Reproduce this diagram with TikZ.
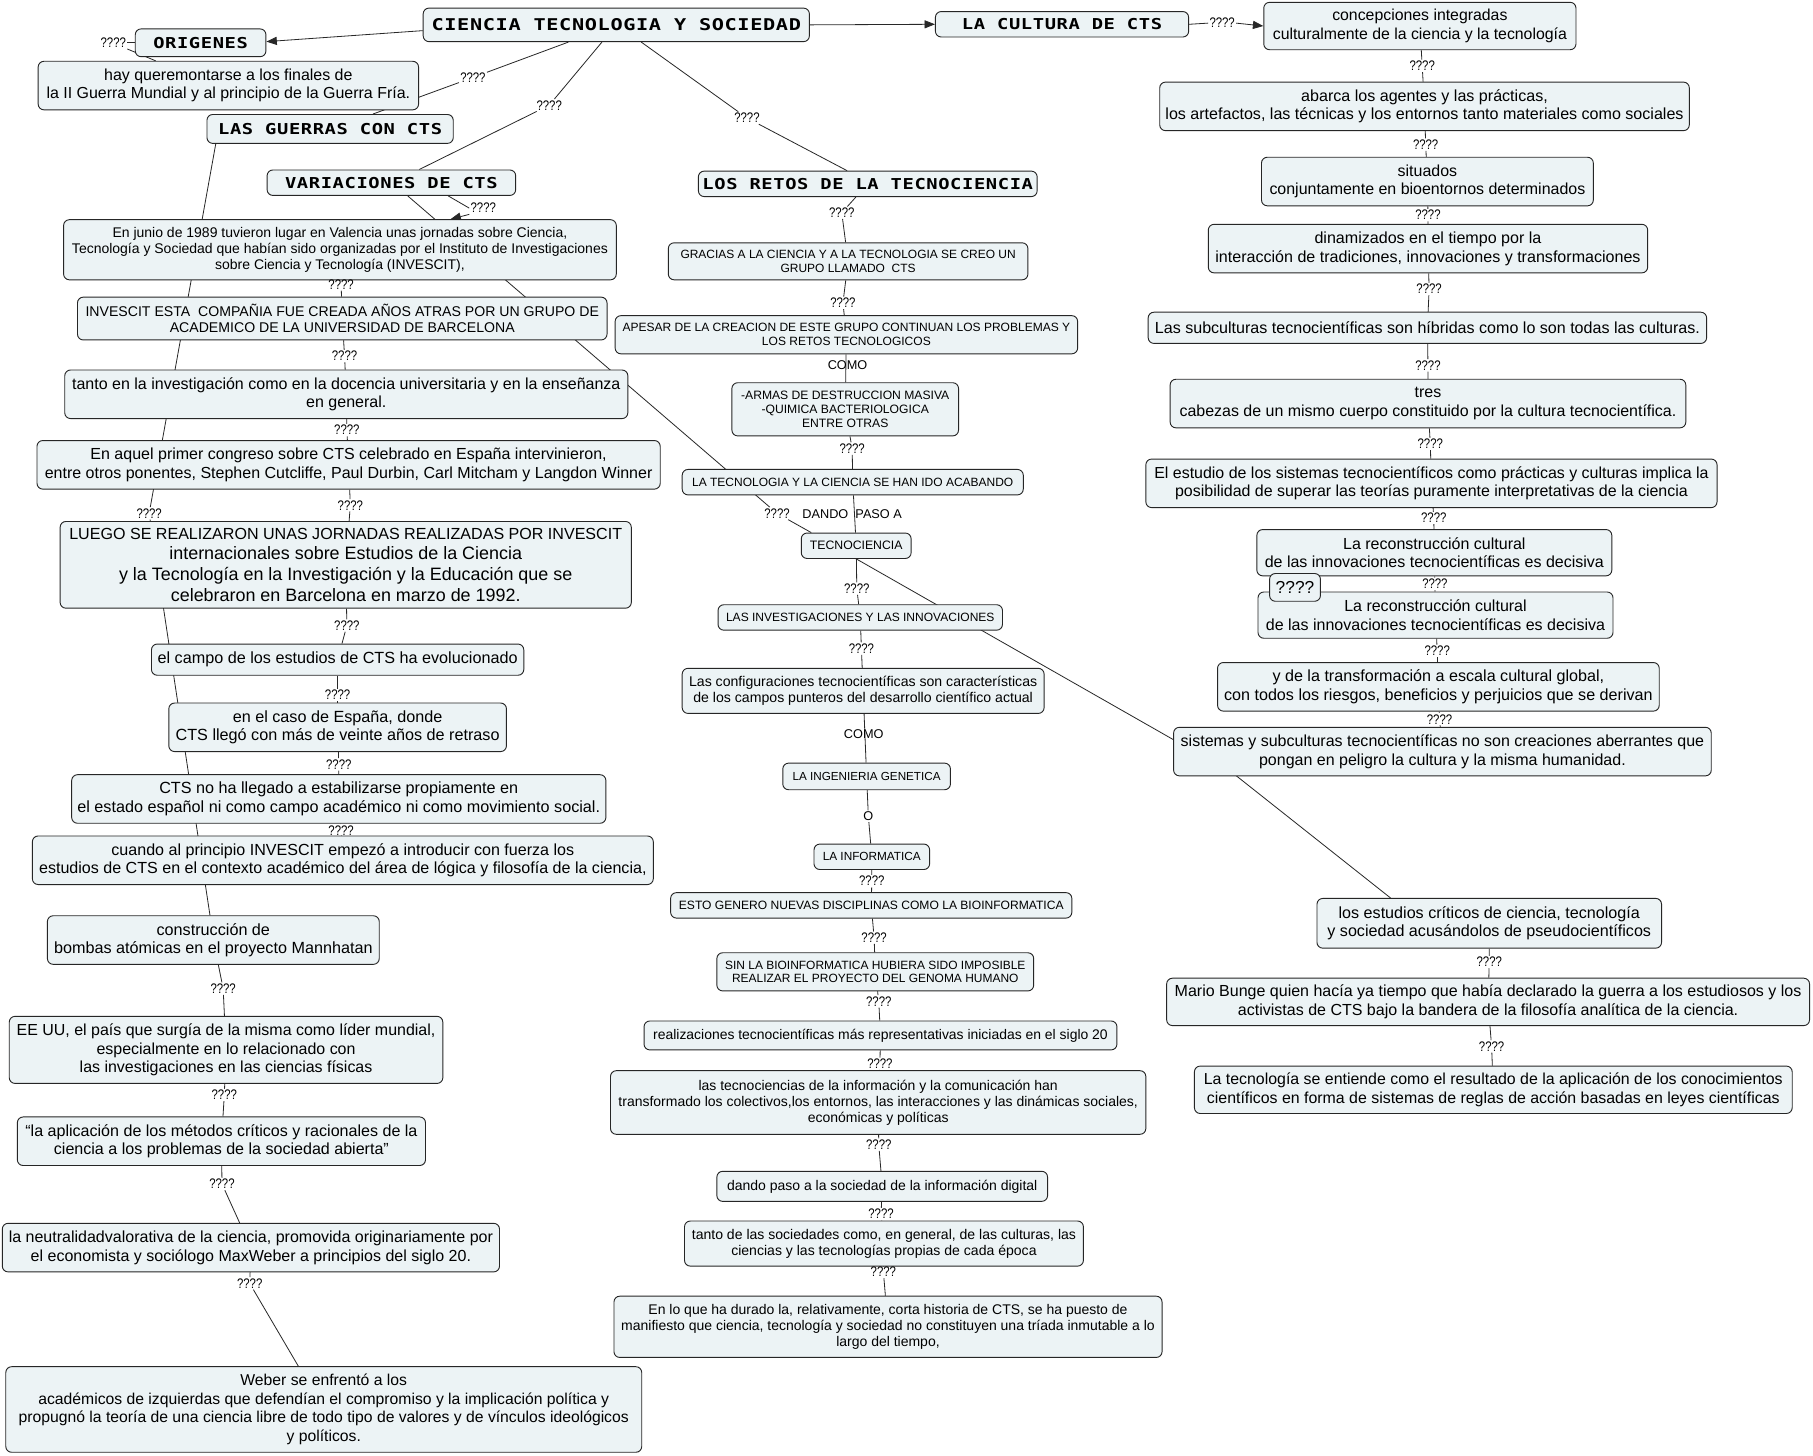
\documentclass[tikz,border=0pt]{standalone}
\usepackage{fontspec}
\setmainfont{Liberation Sans}
\newfontfamily\narrowfont[FakeStretch=0.82]{Liberation Sans}
\newfontfamily\techfont[FakeStretch=1.25,LetterSpace=4]{DejaVu Sans Mono}
\usetikzlibrary{arrows.meta,calc}
\pgfdeclarelayer{bg}
\pgfsetlayers{bg,main}
\definecolor{nodefill}{RGB}{236,243,245}
\definecolor{edgecol}{RGB}{40,40,40}
\newcommand\fz[2]{\fontsize{#1}{#2}\selectfont}
\newcommand\nd[7]{\node[box,minimum width={(#4)-(#2)},minimum height={(#5)-(#3)},font={#6}] (#1) at ({((#2)+(#4))/2},{((#3)+(#5))/2}) {#7};}
\begin{document}
\begin{tikzpicture}[x=1pt,y=-1pt,
  box/.style={draw=black!85,fill=nodefill,rounded corners=5pt,line width=0.8pt,inner sep=0pt,align=center},
  lab/.style={inner sep=1pt,font={\narrowfont\fz{12}{14}}},
  lab2/.style={inner sep=1pt,font={\fz{11}{13}}},
  conn/.style={draw=edgecol,line width=0.7pt},
  arr/.style={conn,-{Triangle[length=9pt,width=7pt]}}]
\useasboundingbox (0,0) rectangle (1568,1259);
% ---- title-font concepts
\nd{T}{366}{7}{700}{36}{\techfont\bfseries\fz{14}{16}}{CIENCIA TECNOLOGIA Y SOCIEDAD}
\nd{ORIG}{117}{25}{230}{49}{\techfont\bfseries\fz{13}{15}}{ORIGENES}
\nd{CULT}{809}{10}{1028}{32}{\techfont\bfseries\fz{13}{15}}{LA CULTURA DE CTS}
\nd{GUER}{179}{99}{392}{124}{\techfont\bfseries\fz{13}{15}}{LAS GUERRAS CON CTS}
\nd{VAR}{231}{147}{446}{169}{\techfont\bfseries\fz{13}{15}}{VARIACIONES DE CTS}
\nd{RETOS}{604}{148}{897}{170}{\techfont\bfseries\fz{13}{15}}{LOS RETOS DE LA TECNOCIENCIA}
% ---- left column
\nd{HAY}{33}{53}{362}{95}{\fz{13.8}{16}}{hay queremontarse a los finales de\\la II Guerra Mundial y al principio de la Guerra Fría.}
\nd{JUN}{55}{190}{533}{242}{\fz{12.1}{14}}{En junio de 1989 tuvieron lugar en Valencia unas jornadas sobre Ciencia,\\Tecnología y Sociedad que habían sido organizadas por el Instituto de Investigaciones\\sobre Ciencia y Tecnología (INVESCIT),}
\nd{INV}{67}{257}{525}{294}{\fz{12.2}{14}}{INVESCIT ESTA\ \ COMPAÑIA FUE CREADA AÑOS ATRAS POR UN GRUPO DE\\ACADEMICO DE LA UNIVERSIDAD DE BARCELONA}
\nd{TANTO}{56}{320}{543}{362}{\fz{13.85}{16}}{tanto en la investigación como en la docencia universitaria y en la enseñanza\\en general.}
\nd{AQUEL}{32}{381}{571}{423}{\fz{13.85}{16}}{En aquel primer congreso sobre CTS celebrado en España intervinieron,\\entre otros ponentes, Stephen Cutcliffe, Paul Durbin, Carl Mitcham y Langdon Winner}
\nd{LUEGO}{52}{451}{546}{526}{\fz{15.5}{18}}{{\fz{13.9}{18}LUEGO SE REALIZARON UNAS JORNADAS REALIZADAS POR INVESCIT}\\internacionales sobre Estudios de la Ciencia\\y la Tecnología en la Investigación y la Educación que se\\celebraron en Barcelona en marzo de 1992.}
\nd{CAMPO}{131}{557}{453}{584}{\fz{14}{16}}{el campo de los estudios de CTS ha evolucionado}
\nd{ESP}{146}{608}{438}{650}{\fz{14}{16}}{en el caso de España, donde\\CTS llegó con más de veinte años de retraso}
\nd{NOHA}{62}{670}{524}{712}{\fz{14}{16}}{CTS no ha llegado a estabilizarse propiamente en\\el estado español ni como campo académico ni como movimiento social.}
\nd{CUANDO}{28}{723}{565}{765}{\fz{13.9}{16}}{cuando al principio INVESCIT empezó a introducir con fuerza los\\estudios de CTS en el contexto académico del área de lógica y filosofía de la ciencia,}
\nd{BOMB}{41}{792}{328}{834}{\fz{14}{16}}{construcción de\\bombas atómicas en el proyecto Mannhatan}
\nd{EEUU}{8}{879}{383}{937}{\fz{13.8}{16}}{EE UU, el país que surgía de la misma como líder mundial,\\especialmente en lo relacionado con\\las investigaciones en las ciencias físicas}
\nd{APLIC}{15}{966}{368}{1008}{\fz{13.9}{16}}{“la aplicación de los métodos críticos y racionales de la\\ciencia a los problemas de la sociedad abierta”}
\nd{NEUT}{2}{1058}{432}{1100}{\fz{13.85}{16}}{la neutralidadvalorativa de la ciencia, promovida originariamente por\\el economista y sociólogo MaxWeber a principios del siglo 20.}
\nd{WEBER}{5}{1182}{555}{1256}{\fz{13.6}{16}}{Weber se enfrentó a los\\académicos de izquierdas que defendían el compromiso y la implicación política y\\propugnó la teoría de una ciencia libre de todo tipo de valores y de vínculos ideológicos\\y políticos.}
% ---- middle column
\nd{GRAC}{578}{210}{889}{242}{\fz{10.35}{12}}{GRACIAS A LA CIENCIA Y A LA TECNOLOGIA SE CREO UN\\GRUPO LLAMADO\ \ CTS}
\nd{APES}{532}{273}{932}{306}{\fz{10.4}{12}}{APESAR DE LA CREACION DE ESTE GRUPO CONTINUAN LOS PROBLEMAS Y\\LOS RETOS TECNOLOGICOS}
\nd{ARMAS}{633}{331}{829}{377}{\fz{10.5}{12}}{-ARMAS DE DESTRUCCION MASIVA\\-QUIMICA BACTERIOLOGICA\\ENTRE OTRAS}
\nd{ACAB}{590}{406}{885}{428}{\fz{10.37}{12}}{LA TECNOLOGIA Y LA CIENCIA SE HAN IDO ACABANDO}
\nd{TECNO}{693}{461}{788}{483}{\fz{10.6}{12}}{TECNOCIENCIA}
\nd{INVINN}{621}{523}{867}{545}{\fz{10.4}{12}}{LAS INVESTIGACIONES Y LAS INNOVACIONES}
\nd{CONF}{590}{578}{903}{617}{\fz{12.2}{14.5}}{Las configuraciones tecnocientíficas son características\\de los campos punteros del desarrollo científico actual}
\nd{ING}{677}{660}{822}{683}{\fz{10.1}{12}}{LA INGENIERIA GENETICA}
\nd{INFO}{704}{730}{804}{752}{\fz{10.2}{12}}{LA INFORMATICA}
\nd{ESTO}{580}{772}{927}{794}{\fz{10.45}{12}}{ESTO GENERO NUEVAS DISCIPLINAS COMO LA BIOINFORMATICA}
\nd{SIN}{620}{824}{894}{857}{\fz{10.35}{12}}{SIN LA BIOINFORMATICA HUBIERA SIDO IMPOSIBLE\\REALIZAR EL PROYECTO DEL GENOMA HUMANO}
\nd{REAL}{557}{883}{966}{908}{\fz{12.05}{14}}{realizaciones tecnocientíficas más representativas iniciadas en el siglo 20}
\nd{TICS}{528}{926}{991}{981}{\fz{12.1}{14}}{las tecnociencias de la información y la comunicación han\\transformado los colectivos,los entornos, las interacciones y las dinámicas sociales,\\económicas y políticas}
\nd{DANDO}{620}{1013}{906}{1039}{\fz{12.1}{14}}{dando paso a la sociedad de la información digital}
\nd{TANTO2}{592}{1056}{937}{1095}{\fz{12.15}{14}}{tanto de las sociedades como, en general, de las culturas, las\\ciencias y las tecnologías propias de cada época}
\nd{LOQUE}{531}{1121}{1005}{1174}{\fz{12.1}{14}}{En lo que ha durado la, relativamente, corta historia de CTS, se ha puesto de\\manifiesto que ciencia, tecnología y sociedad no constituyen una tríada inmutable a lo\\largo del tiempo,}
% ---- right column
\nd{R1}{1093}{2}{1363}{43}{\fz{13.7}{16}}{concepciones integradas\\culturalmente de la ciencia y la tecnología}
\nd{ABARCA}{1003}{71}{1461}{113}{\fz{13.9}{16}}{abarca los agentes y las prácticas,\\los artefactos, las técnicas y los entornos tanto materiales como sociales}
\nd{SIT}{1091}{136}{1378}{178}{\fz{13.8}{16}}{situados\\conjuntamente en bioentornos determinados}
\nd{DIN}{1045}{194}{1425}{236}{\fz{13.9}{16}}{dinamizados en el tiempo por la\\interacción de tradiciones, innovaciones y transformaciones}
\nd{SUBC}{993}{270}{1476}{297}{\fz{13.9}{16}}{Las subculturas tecnocientíficas son híbridas como lo son todas las culturas.}
\nd{TRES}{1012}{328}{1458}{370}{\fz{13.8}{16}}{tres\\cabezas de un mismo cuerpo constituido por la cultura tecnocientífica.}
\nd{ESTUD}{991}{397}{1485}{439}{\fz{13.8}{16}}{El estudio de los sistemas tecnocientíficos como prácticas y culturas implica la\\posibilidad de superar las teorías puramente interpretativas de la ciencia}
\nd{REC1}{1087}{458}{1394}{498}{\fz{13.85}{16}}{La reconstrucción cultural\\de las innovaciones tecnocientíficas es decisiva}
\nd{REC2}{1088}{512}{1395}{552}{\fz{13.85}{16}}{La reconstrucción cultural\\de las innovaciones tecnocientíficas es decisiva}
\nd{QBOX}{1098}{496}{1142}{520}{\fz{15}{17}}{????}
\nd{YDELA}{1053}{573}{1435}{615}{\fz{13.95}{16}}{y de la transformación a escala cultural global,\\con todos los riesgos, beneficios y perjuicios que se derivan}
\nd{SIST}{1015}{629}{1480}{671}{\fz{13.85}{16}}{sistemas y subculturas tecnocientíficas no son creaciones aberrantes que\\pongan en peligro la cultura y la misma humanidad.}
\nd{ESTCRIT}{1139}{777}{1437}{820}{\fz{13.95}{16}}{los estudios críticos de ciencia, tecnología\\y sociedad acusándolos de pseudocientíficos}
\nd{BUNGE}{1009}{846}{1565}{887}{\fz{13.85}{16}}{Mario Bunge quien hacía ya tiempo que había declarado la guerra a los estudiosos y los\\activistas de CTS bajo la bandera de la filosofía analítica de la ciencia.}
\nd{LATEC}{1033}{922}{1550}{963}{\fz{13.75}{16}}{La tecnología se entiende como el resultado de la aplicación de los conocimientos\\científicos en forma de sistemas de reglas de acción basadas en leyes científicas}
% ---- linking phrases
\node[lab] (lo) at (98,37) {????};
\node[lab] (lg) at (409,67) {????};
\node[lab] (lv) at (475,91) {????};
\node[lab] (lr) at (646,102) {????};
\node[lab] (lc) at (1057,20) {????};
\node[lab] (lvj) at (418,180) {????};
\node[lab] (lvt) at (672,444) {????};
\node[lab] (lgb) at (129,444) {????};
\node[lab] (lj1) at (295,246) {????};
\node[lab] (lj2) at (298,308) {????};
\node[lab] (lj3) at (300,372) {????};
\node[lab] (lj4) at (303,437) {????};
\node[lab] (lj5) at (300,541) {????};
\node[lab] (lj6) at (292,601) {????};
\node[lab] (lj7) at (293,661) {????};
\node[lab] (lj8) at (295,718) {????};
\node[lab] (lb1) at (193,855) {????};
\node[lab] (lb2) at (194,947) {????};
\node[lab] (lb3) at (192,1024) {????};
\node[lab] (lb4) at (216,1110) {????};
\node[lab] (lm1) at (728,184) {????};
\node[lab] (lm2) at (729,262) {????};
\node[lab2] (como1) at (733,316) {COMO};
\node[lab] (lm3) at (737,388) {????};
\node[lab2] (dpa) at (737,445) {DANDO\ \ PASO A};
\node[lab] (lm4) at (741,509) {????};
\node[lab] (lm5) at (745,561) {????};
\node[lab2] (como2) at (747,635) {COMO};
\node[lab2] (o1) at (751,706) {O};
\node[lab] (lm6) at (754,762) {????};
\node[lab] (lm7) at (756,811) {????};
\node[lab] (lm8) at (760,866) {????};
\node[lab] (lm9) at (761,920) {????};
\node[lab] (lm10) at (760,990) {????};
\node[lab] (lm11) at (762,1050) {????};
\node[lab] (lm12) at (764,1100) {????};
\node[lab] (lr1) at (1230,57) {????};
\node[lab] (lr2) at (1233,125) {????};
\node[lab] (lr3) at (1235,186) {????};
\node[lab] (lr4) at (1236,250) {????};
\node[lab] (lr5) at (1235,316) {????};
\node[lab] (lr6) at (1237,384) {????};
\node[lab] (lr7) at (1240,448) {????};
\node[lab] (lr8) at (1241,505) {????};
\node[lab] (lr9) at (1243,563) {????};
\node[lab] (lr10) at (1245,622) {????};
\node[lab] (lr11) at (1288,832) {????};
\node[lab] (lr12) at (1290,905) {????};
\coordinate (hid) at (1068,670);
% ---- connectors
\begin{pgfonlayer}{bg}
\fill[white] (0,0) rectangle (1568,1259);
\draw[arr] ($(T.west)+(0,5)$) -- ($(ORIG.east)+(0,-1)$);
\draw[conn] (ORIG.west) -- (lo.east);
\draw[conn] (lo.south east) -- ($(HAY.north west)+(102,0)$);
\draw[conn] ($(T.south west)+(126,0)$) -- (lg) -- ($(GUER.north west)+(144,0)$);
\draw[conn] ($(T.south west)+(155,0)$) -- (lv) -- ($(VAR.north west)+(132,0)$);
\draw[conn] ($(T.south west)+(189,0)$) -- (lr) -- ($(RETOS.north west)+(129,0)$);
\draw[arr] (T.east) -- (CULT.west);
\draw[conn] (CULT.east) -- (lc.west);
\draw[arr] (lc.east) -- (R1.west);
\draw[conn] ($(VAR.south west)+(157,0)$) -- (lvj.west);
\draw[arr] (lvj.south west) -- ($(JUN.north west)+(335,0)$);
\draw[conn] ($(VAR.south west)+(122,0)$) -- (lvt) -- ($(TECNO.north west)+(9,0)$);
\draw[conn] ($(GUER.south west)+(8,0)$) -- (lgb) -- ($(BOMB.north west)+(141,0)$);
\draw[conn] (JUN) -- (lj1) -- (INV);
\draw[conn] (INV) -- (lj2) -- (TANTO);
\draw[conn] (TANTO) -- (lj3) -- (AQUEL);
\draw[conn] (AQUEL) -- (lj4) -- (LUEGO);
\draw[conn] (LUEGO) -- (lj5) -- (CAMPO);
\draw[conn] (CAMPO) -- (lj6) -- (ESP);
\draw[conn] (ESP) -- (lj7) -- (NOHA);
\draw[conn] (NOHA) -- (lj8) -- (CUANDO);
\draw[conn] (BOMB) -- (lb1) -- (EEUU);
\draw[conn] (EEUU) -- (lb2) -- (APLIC);
\draw[conn] (APLIC) -- (lb3) -- (NEUT);
\draw[conn] (NEUT) -- (lb4) -- (WEBER);
\draw[conn] (RETOS) -- (lm1) -- (GRAC);
\draw[conn] (GRAC) -- (lm2) -- (APES);
\draw[conn] (APES) -- (ARMAS);
\draw[conn] (ARMAS) -- (lm3) -- (ACAB);
\draw[conn] (ACAB) -- (TECNO);
\draw[conn] (TECNO) -- (lm4) -- (INVINN);
\draw[conn] (INVINN) -- (lm5) -- (CONF);
\draw[conn] (CONF) -- (ING);
\draw[conn] (ING) -- (o1) -- (INFO);
\draw[conn] (INFO) -- (lm6) -- (ESTO);
\draw[conn] (ESTO) -- (lm7) -- (SIN);
\draw[conn] (SIN) -- (lm8) -- (REAL);
\draw[conn] (REAL) -- (lm9) -- (TICS);
\draw[conn] (TICS) -- (lm10) -- (DANDO);
\draw[conn] (DANDO) -- (lm11) -- (TANTO2);
\draw[conn] (TANTO2) -- (lm12) -- (LOQUE);
\draw[conn] ($(TECNO.south west)+(48,0)$) -- (hid) -- ($(ESTCRIT.north west)+(64,0)$);
\draw[conn] (R1) -- (lr1) -- (ABARCA);
\draw[conn] (ABARCA) -- (lr2) -- (SIT);
\draw[conn] (SIT) -- (lr3) -- (DIN);
\draw[conn] (DIN) -- (lr4) -- (SUBC);
\draw[conn] (SUBC) -- (lr5) -- (TRES);
\draw[conn] (TRES) -- (lr6) -- (ESTUD);
\draw[conn] (ESTUD) -- (lr7) -- (REC1);
\draw[conn] (REC1) -- (lr8) -- (REC2);
\draw[conn] (REC2) -- (lr9) -- (YDELA);
\draw[conn] (YDELA) -- (lr10) -- (SIST);
\draw[conn] (ESTCRIT) -- (lr11) -- (BUNGE);
\draw[conn] (BUNGE) -- (lr12) -- (LATEC);
\end{pgfonlayer}
\end{tikzpicture}
\end{document}
